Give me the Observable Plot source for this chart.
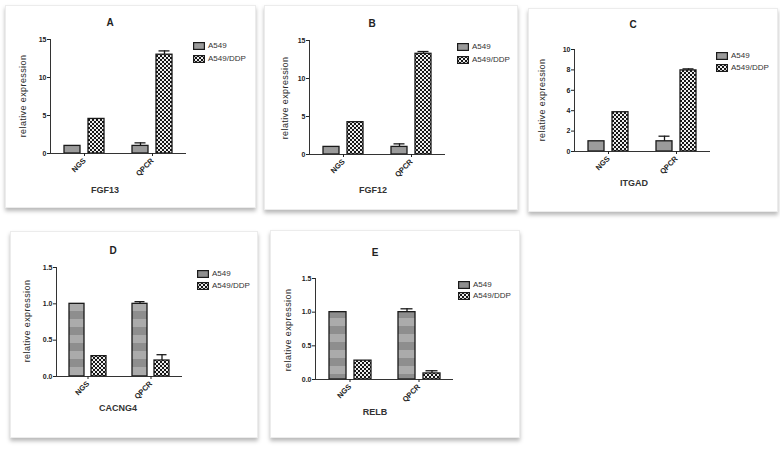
<!DOCTYPE html>
<html>
<head>
<meta charset="utf-8">
<script src="https://cdn.jsdelivr.net/npm/d3@7"></script>
<script src="https://cdn.jsdelivr.net/npm/@observablehq/plot@0.6"></script>
<style>
  body { margin: 0; background: #fff; }
  #root { position: relative; width: 780px; height: 449px; overflow: hidden; font-family: "Liberation Sans", Arial, sans-serif; color: #222; }
  .card { position: absolute; background: #fff; border: 1px solid #ececec; box-shadow: 0 3px 4px rgba(0,0,0,0.28); box-sizing: border-box; }
  .lbl { position: absolute; transform: translate(-50%, -50%); white-space: nowrap; }
  .title { font-weight: bold; font-size: 10px; }
  .xlab { font-weight: bold; font-size: 9px; color: #333; }
  .ylab { font-size: 9px; letter-spacing: 0.4px; color: #2a2a2a; transform: translate(-50%, -50%) rotate(-90deg); }
  .leg { position: absolute; font-size: 8px; color: #333; line-height: 8px; }
  .leg .row { display: flex; align-items: center; height: 8px; }
  .leg svg { margin-right: 3px; }
  .plotwrap { position: absolute; }
</style>
</head>
<body>
<div id="root">
<svg width="0" height="0" style="position:absolute">
  <defs>
    <pattern id="checks" width="4" height="4" patternUnits="userSpaceOnUse">
      <rect width="4" height="4" fill="#eeeeee"></rect>
      <rect width="2" height="2" fill="#161616"></rect>
      <rect x="2" y="2" width="2" height="2" fill="#161616"></rect>
    </pattern>
    <pattern id="stripes" width="4" height="16" patternUnits="userSpaceOnUse">
      <rect width="4" height="8" fill="#8e8e8e"></rect>
      <rect y="8" width="4" height="8" fill="#ababab"></rect>
    </pattern>
  </defs>
</svg>
</div>
<script>
// ---- data ----
const categories = ["NGS", "QPCR"];
const series = ["A549", "A549/DDP"];
const panelLetters = ["A", "B", "C", "D", "E"];
const genes = ["FGF13", "FGF12", "ITGAD", "CACNG4", "RELB"];
const yMax = [15, 15, 10, 1.5, 1.5];
const yTicks = [[0, 5, 10, 15], [0, 5, 10, 15], [0, 2, 4, 6, 8, 10], [0, 0.5, 1.0, 1.5], [0, 0.5, 1.0, 1.5]];
const yTickFormat = ["d", "d", "d", ".1f", ".1f"];

// values per gene: [NGS, QPCR]
const fgf13A549 = [1.0, 1.0];
const fgf13DDP = [4.55, 13.0];
const fgf13A549Err = [0, 0.4];
const fgf13DDPErr = [0, 0.5];

const fgf12A549 = [1.0, 1.0];
const fgf12DDP = [4.25, 13.25];
const fgf12A549Err = [0, 0.4];
const fgf12DDPErr = [0, 0.3];

const itgadA549 = [1.0, 1.0];
const itgadDDP = [3.85, 7.95];
const itgadA549Err = [0, 0.5];
const itgadDDPErr = [0, 0.15];

const cacng4A549 = [1.0, 1.0];
const cacng4DDP = [0.28, 0.22];
const cacng4A549Err = [0, 0.03];
const cacng4DDPErr = [0, 0.08];

const relbA549 = [1.0, 1.0];
const relbDDP = [0.28, 0.09];
const relbA549Err = [0, 0.05];
const relbDDPErr = [0, 0.04];

const a549Values = [fgf13A549, fgf12A549, itgadA549, cacng4A549, relbA549];
const ddpValues = [fgf13DDP, fgf12DDP, itgadDDP, cacng4DDP, relbDDP];
const a549Errors = [fgf13A549Err, fgf12A549Err, itgadA549Err, cacng4A549Err, relbA549Err];
const ddpErrors = [fgf13DDPErr, fgf12DDPErr, itgadDDPErr, cacng4DDPErr, relbDDPErr];

// ---- layout (page pixel geometry of each card) ----
const layout = [
  {card: [5, 5, 256, 208], axis: [49, 186, 39, 153], title: [110, 22], xlab: [105, 190], ylab: [23, 96], legend: [193, 43], gap: 13, striped: false},
  {card: [264, 5, 518, 210], axis: [309, 445, 40, 154], title: [372, 23], xlab: [373, 190], ylab: [285, 98], legend: [457, 44], gap: 13, striped: false},
  {card: [528, 8, 778, 212], axis: [574, 710, 49, 151], title: [633, 24], xlab: [634, 183], ylab: [542, 100], legend: [716, 53], gap: 12, striped: false},
  {card: [10, 231, 258, 438], axis: [55, 182, 267, 376], title: [113, 250], xlab: [118, 408], ylab: [27, 321], legend: [197, 271], gap: 12, striped: true},
  {card: [270, 230, 520, 438], axis: [315, 453, 278, 379], title: [375, 252], xlab: [375, 412], ylab: [288, 330], legend: [458, 282], gap: 11, striped: true}
];

const root = document.getElementById("root");

function addLabel(cls, text, x, y) {
  const d = document.createElement("div");
  d.className = "lbl " + cls;
  d.textContent = text;
  d.style.left = x + "px";
  d.style.top = y + "px";
  root.appendChild(d);
}

panelLetters.forEach((letter, i) => {
  const L = layout[i];
  const [cl, ct, cr, cb] = L.card;
  const [al, ar, at, ab] = L.axis;
  const card = document.createElement("div");
  card.className = "card";
  card.style.left = cl + "px";
  card.style.top = ct + "px";
  card.style.width = (cr - cl) + "px";
  card.style.height = (cb - ct) + "px";
  root.appendChild(card);

  const rows = [];
  categories.forEach((c, j) => {
    rows.push({category: c, series: series[0], value: a549Values[i][j], top: a549Values[i][j] + a549Errors[i][j], err: a549Errors[i][j]});
    rows.push({category: c, series: series[1], value: ddpValues[i][j], top: ddpValues[i][j] + ddpErrors[i][j], err: ddpErrors[i][j]});
  });
  const errRows = rows.filter(d => d.err > 0);
  const fills = L.striped ? ["url(#stripes)", "url(#checks)"] : ["#9b9b9b", "url(#checks)"];

  const chart = Plot.plot({
    width: cr - cl,
    height: cb - ct,
    marginLeft: al - cl,
    marginRight: cr - ar,
    marginTop: at - ct,
    marginBottom: cb - ab,
    style: {fontFamily: "'Liberation Sans', Arial, sans-serif", background: "transparent", color: "#222", overflow: "visible"},
    fx: {domain: categories, padding: 0, label: null},
    x: {domain: series, paddingInner: 0.32, paddingOuter: 0.53, axis: null},
    y: {domain: [0, yMax[i]], axis: null},
    color: {domain: series, range: fills},
    marks: [
      Plot.barY(rows, {fx: "category", x: "series", y: "value", fill: "series", stroke: "#1a1a1a", strokeWidth: 1.3}),
      Plot.ruleX(errRows, {fx: "category", x: "series", y1: "value", y2: "top", stroke: "#1a1a1a", strokeWidth: 1.3}),
      Plot.tickY(errRows, {fx: "category", x: "series", y: "top", stroke: "#1a1a1a", strokeWidth: 1.3, insetLeft: 2.5, insetRight: 2.5}),
      Plot.ruleY([0], {stroke: "#333", strokeWidth: 1}),
      Plot.frame({anchor: "left", facetAnchor: "left", stroke: "#333", strokeWidth: 1}),
      Plot.axisY({ticks: yTicks[i], tickFormat: d3.format(yTickFormat[i]), tickSize: 3, tickPadding: 1, fontSize: 7, fontWeight: "bold", label: null}),
      Plot.axisFx({anchor: "bottom", tickSize: 3, tickRotate: -45, tickPadding: 3, fontSize: 7.5, fontWeight: "bold", label: null})
    ]
  });
  const wrap = document.createElement("div");
  wrap.className = "plotwrap";
  wrap.style.left = cl + "px";
  wrap.style.top = ct + "px";
  wrap.appendChild(chart);
  root.appendChild(wrap);

  addLabel("title", letter, L.title[0], L.title[1]);
  addLabel("xlab", genes[i], L.xlab[0], L.xlab[1]);
  addLabel("ylab", "relative expression", L.ylab[0], L.ylab[1]);

  const leg = document.createElement("div");
  leg.className = "leg";
  leg.style.left = L.legend[0] + "px";
  leg.style.top = (L.legend[1] - 1) + "px";
  series.forEach((s, k) => {
    const row = document.createElement("div");
    row.className = "row";
    if (k > 0) row.style.marginTop = (L.gap - 8) + "px";
    row.innerHTML = `<svg width="12" height="8"><rect x="0.6" y="0.6" width="10.8" height="6.8" fill="${fills[k]}" stroke="#1a1a1a" stroke-width="1.2"></rect></svg><span>${s}</span>`;
    leg.appendChild(row);
  });
  root.appendChild(leg);
});
</script>
</body>
</html>
